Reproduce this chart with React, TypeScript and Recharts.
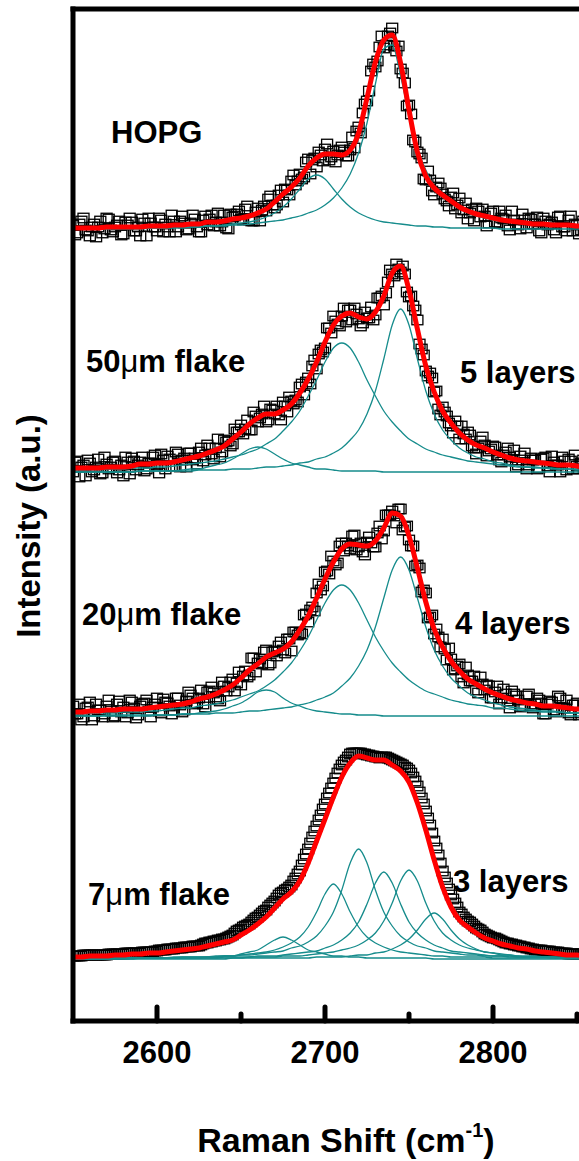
import React from "react";
import { ComposedChart, Line, Scatter, XAxis, YAxis, ReferenceLine } from "recharts";

// recorded spectra: two interleaved scans, each sampled every 2.5 cm-1;
// fitted curves every 5 cm-1
const RAW_START = 2550;
const RAW2_START = 2551.25;
const RAW_STEP = 2.5;
const FIT_START = 2550;
const FIT_STEP = 5;

const xTicks = [2600, 2650, 2700, 2750, 2800, 2850];
const majorTicks = [2600, 2700, 2800];

const sampleNames = ["HOPG", "50μm flake", "20μm flake", "7μm flake"];
const layerNames = ["", "5 layers", "4 layers", "3 layers"];
// vertical offset (a.u.) of each stacked spectrum
const baselines = [791, 548, 304, 62];

// ---- HOPG ----
const hopgRaw = [
  5, -3, 9, 0, -6, 6, 3, -3, 12, 0,
  3, 9, -4, 5, 8, -1, -6, 7, 12, 3,
  -1, 10, 6, -2, 9, 3, 14, 0, 7, 11,
  -2, 10, 5, 15, 8, 4, 15, 1, 13, 16,
  11, 21, 10, 9, 22, 20, 19, 34, 22, 35,
  28, 40, 49, 45, 56, 53, 71, 70, 63, 75,
  81, 70, 79, 75, 83, 74, 80, 82, 103, 117,
  129, 159, 163, 183, 182, 194, 202, 179, 161, 147,
  125, 90, 78, 72, 50, 50, 35, 47, 36, 29,
  33, 21, 32, 20, 11, 21, 22, 13, 14, 7,
  19, 7, 12, 15, 0, 10, 5, 16, 2, 11,
  6, -1, 12, 5, 8, -3, 14, 3, 10, -1,
  5, 0, 11, 6, -1,
];
const hopgRaw2 = [
  -5, 6, 12, -1, 3, -7, 9, 1, 11, -2,
  5, -5, 8, 12, -1, 3, 11, -6, 7, 3,
  12, -2, 3, 15, -2, 9, 7, 1, 15, 3,
  -2, 14, 11, 4, 17, 8, 2, 16, 14, 19,
  10, 24, 9, 18, 9, 24, 31, 25, 25, 40,
  41, 35, 55, 49, 51, 68, 56, 72, 78, 69,
  86, 73, 68, 80, 78, 74, 93, 99, 97, 126,
  139, 166, 169, 194, 185, 197, 184, 184, 157, 124,
  116, 88, 76, 51, 59, 39, 43, 42, 31, 24,
  37, 25, 17, 27, 17, 9, 19, 21, 4, 17,
  8, 19, 11, 4, 19, 6, 1, 10, 12, 6,
  13, -3, 9, 6, 0, 13, 3, -1, 14, 6,
  -4, 9, 1, 10, 6,
];
const hopgFit = [
  2, 2, 2, 2, 3, 3, 3, 3, 3, 4, 4, 4, 5, 5, 6, 6, 8, 8, 9, 11, 12, 14, 17, 21, 28, 36, 43, 52, 64, 72, 76,
  76, 75, 80, 97, 132, 168, 190, 195, 167, 120, 78, 54, 42, 35, 29, 23, 19, 16, 14, 12, 10, 9, 8, 7, 6, 6,
  5, 5, 5, 4, 4, 4,
];
const hopgPeak1 = [
  1, 1, 1, 1, 1, 1, 1, 1, 1, 2, 2, 2, 2, 2, 3, 3, 4, 4, 5, 6, 7, 8, 10, 13, 17, 23, 31, 41, 51, 55, 51,
  41, 31, 23, 17, 13, 10, 8, 7, 6, 5, 4, 4, 3, 3, 2, 2, 2, 2, 2, 2, 1, 1, 1, 1, 1, 1, 1, 1, 1, 1, 1, 1,
];
const hopgPeak2 = [
  1, 1, 1, 1, 2, 2, 2, 2, 2, 2, 2, 2, 3, 3, 3, 3, 4, 4, 4, 5, 5, 6, 7, 8, 9, 10, 12, 14, 17, 20, 25, 32,
  42, 56, 77, 107, 146, 181, 185, 154, 115, 82, 60, 44, 34, 27, 21, 17, 14, 12, 10, 9, 8, 7, 6, 5, 5, 4,
  4, 4, 3, 3, 3,
];

// ---- 50 um flake, 5 layers ----
const flake50Raw = [
  1, 12, 6, -3, 10, 3, 14, 0, 9, 6,
  12, 3, -3, 11, 15, 3, 11, 2, 10, 16,
  8, 19, 4, 14, 7, 19, 13, 6, 20, 15,
  21, 12, 28, 19, 25, 16, 33, 32, 29, 41,
  48, 44, 43, 61, 51, 59, 51, 64, 59, 58,
  71, 61, 72, 73, 86, 78, 95, 107, 104, 123,
  125, 145, 157, 149, 157, 151, 163, 165, 154, 150,
  155, 166, 158, 175, 168, 191, 199, 209, 201, 199,
  176, 167, 153, 124, 102, 100, 81, 64, 66, 57,
  47, 52, 34, 39, 41, 27, 19, 32, 28, 22,
  27, 18, 11, 21, 16, 23, 8, 13, 4, 15,
  13, 5, 15, 7, 17, 8, 1, 12, 14, 4,
  7, 10, 1, 13, 4,
];
const flake50Raw2 = [
  11, -4, 8, 13, 1, 6, -1, 16, 4, 11,
  0, 8, 16, -1, 12, 8, 16, 4, 10, 18,
  0, 13, 17, 7, 21, 6, 15, 20, 13, 9,
  25, 18, 25, 14, 34, 21, 31, 27, 44, 41,
  39, 53, 43, 57, 55, 67, 53, 63, 67, 53,
  67, 76, 69, 71, 89, 91, 89, 113, 119, 121,
  145, 140, 152, 147, 165, 163, 153, 159, 147, 161,
  155, 153, 175, 177, 180, 203, 197, 204, 207, 181,
  177, 163, 129, 118, 97, 95, 82, 58, 61, 50,
  40, 47, 47, 34, 38, 25, 25, 36, 17, 24,
  26, 13, 18, 25, 13, 6, 17, 20, 8, 13,
  4, 14, 16, 1, 11, 8, 16, 3, 12, 18,
  4, 13, -1, 7, 14,
];
const flake50Fit = [
  5, 5, 5, 5, 6, 6, 6, 7, 9, 9, 10, 10, 11, 13, 15, 17, 20, 23, 27, 34, 41, 49, 55, 59, 59, 63, 69, 80,
  94, 111, 131, 148, 157, 160, 156, 154, 161, 177, 200, 207, 183, 144, 107, 81, 62, 50, 40, 33, 28, 25,
  21, 18, 15, 13, 12, 11, 10, 9, 8, 8, 7, 6, 6,
];
const flake50Peak1 = [
  1, 1, 1, 1, 1, 1, 1, 1, 2, 2, 2, 2, 2, 3, 4, 4, 6, 8, 10, 14, 19, 24, 26, 24, 19, 14, 10, 8, 6, 4, 4,
  3, 2, 2, 2, 2, 2, 1, 1, 1, 1, 1, 1, 1, 1, 1, 1, 1, 1, 1, 1, 1, 1, 1, 1, 1, 1, 1, 1, 1, 1, 1, 1,
];
const flake50Peak2 = [
  3, 3, 3, 3, 4, 4, 4, 5, 5, 5, 6, 6, 7, 8, 9, 10, 11, 12, 14, 16, 18, 21, 24, 29, 34, 42, 51, 62, 77,
  93, 111, 125, 130, 125, 111, 93, 77, 62, 51, 42, 34, 29, 24, 21, 18, 16, 14, 12, 11, 10, 9, 8, 7, 6,
  6, 5, 5, 5, 4, 4, 4, 3, 3,
];
const flake50Peak3 = [
  1, 1, 1, 1, 1, 1, 1, 1, 2, 2, 2, 2, 2, 2, 2, 3, 3, 3, 3, 4, 4, 4, 5, 6, 6, 7, 8, 10, 11, 14, 16, 20,
  25, 33, 43, 59, 82, 114, 148, 164, 148, 114, 82, 59, 43, 33, 25, 20, 16, 14, 11, 10, 8, 7, 6, 6, 5,
  4, 4, 4, 3, 3, 3,
];

// ---- 20 um flake, 4 layers ----
const flake20Raw = [
  11, 3, -3, 9, 15, 1, 7, 0, 11, 6,
  1, 16, 10, 4, 15, -1, 11, 14, 6, 10,
  19, 4, 15, 11, 7, 19, 5, 16, 22, 13,
  19, 13, 25, 30, 20, 16, 31, 30, 38, 34,
  32, 46, 42, 59, 54, 53, 67, 54, 66, 71,
  67, 78, 66, 85, 84, 102, 95, 110, 124, 127,
  145, 143, 156, 154, 174, 174, 168, 182, 170, 165,
  175, 174, 170, 191, 186, 202, 206, 194, 208, 190,
  177, 171, 152, 125, 124, 100, 83, 80, 78, 57,
  58, 48, 53, 34, 42, 36, 27, 40, 27, 31,
  19, 31, 19, 23, 9, 23, 17, 11, 21, 11,
  13, 17, 3, 13, 15, 5, 19, 9, 4, 12,
  14, 4, 9, 1, 9,
];
const flake20Raw2 = [
  3, 13, 0, 10, -3, 13, 7, 3, 17, 0,
  13, 5, 0, 17, 9, 2, 13, 17, 0, 13,
  6, 18, 14, 3, 19, 12, 7, 25, 19, 14,
  27, 10, 26, 24, 18, 35, 26, 35, 26, 45,
  41, 40, 59, 45, 58, 65, 52, 65, 61, 75,
  64, 78, 85, 82, 83, 103, 107, 106, 133, 131,
  146, 161, 152, 171, 166, 171, 181, 167, 174, 162,
  180, 170, 184, 178, 202, 202, 201, 208, 187, 191,
  171, 151, 149, 127, 99, 102, 88, 70, 68, 69,
  47, 51, 40, 50, 36, 41, 24, 33, 32, 19,
  25, 13, 28, 16, 26, 21, 10, 13, 23, 9,
  19, 14, 3, 16, 7, 21, 9, 17, 2, 12,
  2, 12, 16, 6, 2,
];
const flake20Fit = [
  5, 5, 6, 6, 7, 7, 8, 8, 8, 9, 10, 11, 12, 13, 15, 18, 20, 23, 27, 32, 39, 47, 53, 60, 64, 68, 75, 87,
  101, 119, 138, 155, 168, 173, 172, 171, 176, 189, 204, 201, 181, 149, 115, 88, 70, 56, 46, 38, 33, 28,
  24, 21, 18, 16, 14, 13, 11, 11, 10, 9, 8, 8, 7,
];
const flake20Peak1 = [
  1, 1, 1, 1, 1, 1, 1, 1, 1, 1, 2, 2, 2, 3, 3, 4, 5, 6, 8, 11, 14, 19, 25, 27, 25, 19, 14, 11, 8, 6, 5,
  4, 3, 3, 2, 2, 2, 1, 1, 1, 1, 1, 1, 1, 1, 1, 1, 1, 1, 1, 1, 1, 1, 1, 1, 1, 1, 1, 1, 1, 1, 1, 1,
];
const flake20Peak2 = [
  3, 3, 4, 4, 4, 4, 5, 5, 5, 6, 6, 7, 8, 9, 9, 11, 12, 13, 15, 17, 20, 23, 26, 31, 37, 45, 54, 66, 80,
  97, 114, 127, 132, 127, 114, 97, 80, 66, 54, 45, 37, 31, 26, 23, 20, 17, 15, 13, 12, 11, 9, 9, 8, 7,
  6, 6, 5, 5, 5, 4, 4, 4, 4,
];
const flake20Peak3 = [
  1, 1, 1, 1, 2, 2, 2, 2, 2, 2, 2, 2, 2, 3, 3, 3, 3, 4, 4, 4, 5, 6, 6, 7, 8, 9, 10, 12, 14, 17, 20, 24,
  31, 39, 51, 67, 90, 119, 147, 160, 147, 119, 90, 67, 51, 39, 31, 24, 20, 17, 14, 12, 10, 9, 8, 7, 6,
  6, 5, 4, 4, 4, 3,
];

// ---- 7 um flake, 3 layers ----
const flake7Raw = [
  3, 3, 3, 4, 4, 4, 4, 4, 4, 5,
  5, 5, 5, 6, 6, 6, 6, 7, 7, 7,
  8, 9, 9, 10, 10, 11, 11, 12, 12, 13,
  13, 15, 16, 17, 18, 19, 20, 22, 24, 28,
  30, 33, 35, 39, 42, 46, 49, 54, 58, 64,
  67, 70, 74, 81, 88, 100, 110, 122, 133, 144,
  155, 166, 176, 186, 194, 199, 205, 206, 206, 205,
  204, 203, 202, 201, 202, 201, 199, 197, 195, 192,
  189, 182, 173, 161, 148, 134, 118, 104, 88, 76,
  64, 56, 47, 42, 38, 35, 31, 29, 25, 23,
  21, 20, 18, 16, 15, 14, 13, 12, 11, 10,
  9, 9, 8, 8, 7, 7, 6, 6, 5, 5,
  5, 5, 4, 4, 4,
];
const flake7Raw2 = [
  3, 3, 4, 4, 4, 4, 4, 4, 5, 5,
  5, 5, 6, 6, 6, 6, 7, 7, 7, 8,
  9, 9, 10, 10, 11, 11, 12, 12, 13, 13,
  14, 16, 17, 18, 19, 20, 21, 23, 26, 29,
  32, 34, 37, 41, 44, 48, 52, 56, 61, 66,
  69, 72, 78, 85, 94, 105, 116, 128, 139, 150,
  161, 171, 181, 190, 197, 202, 206, 206, 206, 205,
  204, 203, 202, 202, 202, 200, 198, 196, 194, 191,
  186, 178, 167, 155, 141, 126, 111, 96, 82, 70,
  60, 52, 45, 40, 37, 33, 30, 27, 24, 22,
  21, 19, 17, 16, 15, 14, 13, 12, 11, 10,
  9, 9, 8, 8, 7, 7, 6, 6, 5, 5,
  5, 5, 4, 4, 4,
];
const flake7Fit = [
  2, 2, 3, 3, 3, 4, 4, 5, 5, 6, 6, 7, 8, 9, 10, 11, 13, 15, 17, 19, 24, 29, 35, 42, 51, 60, 67, 78, 96,
  118, 140, 162, 182, 196, 203, 201, 199, 199, 194, 188, 177, 156, 129, 99, 72, 52, 39, 32, 26, 21, 18,
  15, 13, 11, 10, 8, 7, 6, 5, 4, 4, 3, 3,
];
const flake7Peak1 = [
  0, 0, 0, 0, 0, 0, 0, 0, 1, 1, 1, 1, 1, 1, 1, 1, 2, 2, 3, 3, 5, 7, 9, 14, 19, 22, 19, 14, 9, 7, 5, 3,
  3, 2, 2, 1, 1, 1, 1, 1, 1, 1, 1, 0, 0, 0, 0, 0, 0, 0, 0, 0, 0, 0, 0, 0, 0, 0, 0, 0, 0, 0, 0,
];
const flake7Peak2 = [
  1, 1, 1, 1, 1, 1, 1, 1, 1, 1, 1, 1, 1, 2, 2, 2, 2, 2, 3, 3, 4, 5, 6, 7, 9, 12, 16, 22, 32, 47, 65, 75,
  65, 47, 32, 22, 16, 12, 9, 7, 6, 5, 4, 3, 3, 2, 2, 2, 2, 2, 1, 1, 1, 1, 1, 1, 1, 1, 1, 1, 1, 1, 1,
];
const flake7Peak3 = [
  1, 1, 1, 1, 1, 1, 1, 1, 1, 1, 1, 1, 2, 2, 2, 2, 2, 3, 3, 3, 4, 4, 5, 6, 7, 8, 11, 13, 17, 23, 33, 47,
  69, 96, 110, 96, 69, 47, 33, 23, 17, 13, 11, 8, 7, 6, 5, 4, 4, 3, 3, 3, 2, 2, 2, 2, 2, 2, 1, 1, 1, 1, 1,
];
const flake7Peak4 = [
  0, 0, 1, 1, 1, 1, 1, 1, 1, 1, 1, 1, 1, 1, 1, 1, 1, 1, 2, 2, 2, 2, 3, 3, 3, 4, 5, 6, 7, 8, 11, 14, 19,
  26, 37, 55, 76, 87, 76, 55, 37, 26, 19, 14, 11, 8, 7, 6, 5, 4, 3, 3, 3, 2, 2, 2, 2, 1, 1, 1, 1, 1, 1,
];
const flake7Peak5 = [
  0, 0, 0, 0, 0, 1, 1, 1, 1, 1, 1, 1, 1, 1, 1, 1, 1, 1, 1, 1, 1, 2, 2, 2, 2, 3, 3, 3, 4, 5, 6, 7, 9, 11,
  14, 19, 26, 38, 56, 78, 89, 78, 56, 38, 26, 19, 14, 11, 9, 7, 6, 5, 4, 3, 3, 3, 2, 2, 2, 2, 1, 1, 1,
];
const flake7Peak6 = [
  0, 0, 0, 0, 0, 0, 0, 0, 0, 0, 0, 0, 0, 0, 0, 0, 0, 0, 0, 1, 1, 1, 1, 1, 1, 1, 1, 1, 1, 2, 2, 2, 2, 3,
  4, 4, 6, 7, 10, 14, 20, 29, 40, 46, 40, 29, 20, 14, 10, 7, 6, 4, 4, 3, 2, 2, 2, 2, 1, 1, 1, 1, 1,
];

const rawSets = [hopgRaw, flake50Raw, flake20Raw, flake7Raw];
const raw2Sets = [hopgRaw2, flake50Raw2, flake20Raw2, flake7Raw2];
const fitSets = [hopgFit, flake50Fit, flake20Fit, flake7Fit];
const peakSets = [
  [hopgPeak1, hopgPeak2],
  [flake50Peak1, flake50Peak2, flake50Peak3],
  [flake20Peak1, flake20Peak2, flake20Peak3],
  [flake7Peak1, flake7Peak2, flake7Peak3, flake7Peak4, flake7Peak5, flake7Peak6],
];

// layout
const FONT = "'Liberation Sans', Arial, Helvetica, sans-serif";
const CHART_W = 661;
const CHART_H = 1161;
const TOP = 9;
const X_AXIS_H = 140;
const Y_AXIS_W = 73;
const PLOT_BOTTOM = CHART_H - X_AXIS_H;
const TEAL = "#168c8c";
const RED = "#ff0000";

const namePos = [
  { x: 111, y: 143 },
  { x: 86, y: 372 },
  { x: 82, y: 625 },
  { x: 88, y: 905 },
];
const layerPos = [
  { x: 0, y: 0 },
  { x: 460, y: 383 },
  { x: 455, y: 634 },
  { x: 453, y: 892 },
];

function toPoints(vals: number[], start: number, step: number, offset: number) {
  return vals.map((v, i) => ({ x: start + i * step, y: v + offset }));
}

const spectra = baselines.map((b, k) => ({
  raw: [
    ...toPoints(rawSets[k], RAW_START, RAW_STEP, b),
    ...toPoints(raw2Sets[k], RAW2_START, RAW_STEP, b),
  ].sort((p, q) => p.x - q.x),
  fit: toPoints(fitSets[k], FIT_START, FIT_STEP, b),
  peaks: peakSets[k].map((p) => toPoints(p, FIT_START, FIT_STEP, b)),
}));

function Square(props: any) {
  const { cx, cy } = props;
  if (cx == null || cy == null) return <g />;
  return (
    <rect
      x={cx - 5.5}
      y={cy - 4.75}
      width={11}
      height={9.5}
      fill="none"
      stroke="#000"
      strokeWidth={1.3}
    />
  );
}

function XTick(props: any) {
  const { x, payload } = props;
  const v = payload.value as number;
  const major = majorTicks.includes(v);
  return (
    <g>
      <line
        x1={x}
        x2={x}
        y1={PLOT_BOTTOM}
        y2={PLOT_BOTTOM - (major ? 14 : 7)}
        stroke="#000"
        strokeWidth={5}
        strokeLinecap="round"
      />
      {major && (
        <text
          x={x}
          y={PLOT_BOTTOM + 42}
          textAnchor="middle"
          fontFamily={FONT}
          fontWeight={700}
          fontSize={31}
          fill="#000"
        >
          {v}
        </text>
      )}
    </g>
  );
}

function SampleName({ name, x, y }: { name: string; x: number; y: number }) {
  const parts = name.split("μ");
  return (
    <text x={x} y={y} fontFamily={FONT} fontWeight={700} fontSize={31} fill="#000">
      {parts[0]}
      {parts.length > 1 && <tspan fontWeight={400}>μ</tspan>}
      {parts.length > 1 && parts[1]}
    </text>
  );
}

export default function App() {
  return (
    <div
      style={{
        position: "absolute",
        left: 0,
        top: 0,
        width: 579,
        height: 1161,
        overflow: "hidden",
        background: "#fff",
      }}
    >
      <ComposedChart
        width={CHART_W}
        height={CHART_H}
        margin={{ top: TOP, right: 0, bottom: 0, left: 0 }}
      >
        <XAxis
          type="number"
          dataKey="x"
          domain={[2550, 2900]}
          ticks={xTicks}
          interval={0}
          allowDataOverflow
          height={X_AXIS_H}
          tickLine={false}
          tickSize={0}
          tick={<XTick />}
          axisLine={{ stroke: "#000", strokeWidth: 5, strokeLinecap: "square" }}
        />
        <YAxis
          type="number"
          domain={[0, 1012]}
          allowDataOverflow
          width={Y_AXIS_W}
          tick={false}
          tickLine={false}
          axisLine={{ stroke: "#000", strokeWidth: 5, strokeLinecap: "square" }}
        />
        <ReferenceLine y={1012} stroke="#000" strokeWidth={5} strokeLinecap="square" />

        {spectra.map((s, k) => (
          <Scatter
            key={`raw-${k}`}
            data={s.raw}
            dataKey="y"
            shape={<Square />}
            isAnimationActive={false}
            zIndex={100}
          />
        ))}
        {spectra.map((s, k) =>
          s.peaks.map((p, j) => (
            <Line
              key={`peak-${k}-${j}`}
              data={p}
              dataKey="y"
              type="monotone"
              stroke={TEAL}
              strokeWidth={1.3}
              dot={false}
              activeDot={false}
              isAnimationActive={false}
              zIndex={200}
            />
          ))
        )}
        {spectra.map((s, k) => (
          <Line
            key={`fit-${k}`}
            data={s.fit}
            dataKey="y"
            type="monotone"
            stroke={RED}
            strokeWidth={5}
            strokeLinejoin="round"
            dot={false}
            activeDot={false}
            isAnimationActive={false}
            zIndex={210}
          />
        ))}
      </ComposedChart>

      <svg
        width={579}
        height={1161}
        style={{ position: "absolute", left: 0, top: 0, pointerEvents: "none" }}
      >
        {sampleNames.map((n, k) => (
          <SampleName key={n} name={n} x={namePos[k].x} y={namePos[k].y} />
        ))}
        {layerNames.map((n, k) =>
          n ? (
            <text
              key={n}
              x={layerPos[k].x}
              y={layerPos[k].y}
              fontFamily={FONT}
              fontWeight={700}
              fontSize={31}
              fill="#000"
            >
              {n}
            </text>
          ) : null
        )}
        <text
          x={346}
          y={1152}
          textAnchor="middle"
          fontFamily={FONT}
          fontWeight={700}
          fontSize={34}
          fill="#000"
        >
          Raman Shift (cm
          <tspan dy={-15} fontSize={20}>
            -1
          </tspan>
          <tspan dy={15}>)</tspan>
        </text>
        <text
          x={40}
          y={526}
          transform="rotate(-90, 40, 526)"
          textAnchor="middle"
          fontFamily={FONT}
          fontWeight={700}
          fontSize={33}
          fill="#000"
        >
          Intensity (a.u.)
        </text>
      </svg>
    </div>
  );
}
